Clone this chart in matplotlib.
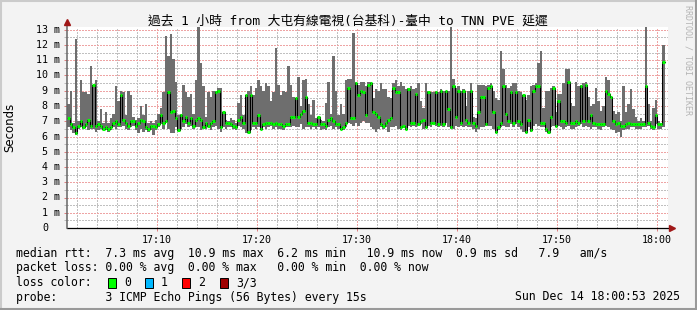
import matplotlib
matplotlib.use('Agg')
import matplotlib.pyplot as plt
import matplotlib.transforms as mtransforms
from matplotlib.patches import Rectangle
from matplotlib.lines import Line2D
import numpy as np

# ping samples (ms), one every 15 s starting 17:01:00
rtt_max = [
    8.1, 9.0, 6.9, 12.4, 7.0, 9.7, 8.9, 8.9, 8.8, 10.6,
    9.4, 9.7, 7.0, 7.8, 6.9, 7.6, 6.9, 7.2, 7.5, 9.3,
    8.3, 9.0, 8.9, 7.4, 9.0, 8.7, 7.3, 7.1, 7.2, 8.0,
    7.4, 8.1, 6.9, 7.0, 6.9, 7.1, 7.5, 7.9, 8.9, 12.6,
    11.3, 12.7, 11.1, 9.6, 7.4, 7.5, 9.4, 8.9, 8.6, 8.8,
    7.5, 9.7, 13.2, 10.8, 9.3, 7.3, 8.9, 8.6, 9.0, 9.0,
    9.2, 9.2, 7.6, 7.1, 7.0, 7.2, 7.1, 6.9, 8.2, 8.7,
    7.4, 8.7, 9.0, 9.3, 8.7, 9.2, 9.7, 9.3, 9.0, 9.5,
    9.3, 8.3, 8.9, 11.8, 9.4, 8.7, 9.0, 8.9, 10.6, 9.4,
    8.6, 8.5, 9.9, 8.0, 9.7, 9.8, 8.1, 7.4, 8.4, 7.2,
    7.3, 7.1, 7.0, 8.2, 9.6, 7.5, 11.3, 9.0, 7.4, 8.1,
    7.5, 9.7, 9.8, 9.8, 12.8, 9.6, 9.4, 9.6, 9.6, 9.3,
    9.6, 9.6, 8.5, 9.1, 9.0, 9.5, 9.1, 9.1, 8.6, 8.5,
    9.5, 9.7, 9.3, 9.6, 9.3, 9.1, 9.2, 9.3, 9.1, 9.2,
    9.5, 8.3, 7.9, 9.5, 9.0, 8.9, 8.9, 9.0, 8.9, 9.1,
    9.0, 9.0, 9.0, 13.3, 9.8, 9.2, 9.3, 9.0, 9.1, 8.0,
    9.0, 9.5, 7.3, 7.2, 9.4, 9.4, 9.4, 9.3, 9.4, 9.5,
    9.0, 8.5, 8.4, 11.6, 10.4, 9.4, 9.2, 9.3, 9.5, 9.5,
    9.0, 8.9, 8.7, 8.4, 8.7, 9.3, 9.4, 9.5, 10.8, 11.6,
    7.9, 9.0, 9.0, 9.2, 9.3, 7.6, 8.8, 8.8, 9.5, 10.4,
    10.4, 8.2, 8.0, 9.6, 9.3, 9.4, 9.5, 9.6, 8.6, 8.0,
    8.1, 9.2, 8.3, 7.7, 8.0, 9.9, 9.7, 8.6, 7.7, 7.5,
    7.6, 7.0, 9.3, 7.6, 8.1, 9.1, 7.8, 7.3, 7.0, 7.2,
    7.0, 13.3, 8.1, 7.0, 7.9, 8.4, 7.0, 6.9, 12.0,
]
rtt_min = [
    6.6, 6.4, 6.2, 6.1, 6.5, 6.6, 6.5, 6.6, 6.4, 6.5,
    6.5, 6.3, 6.4, 6.5, 6.4, 6.4, 6.3, 6.4, 6.6, 6.5,
    6.6, 6.6, 6.7, 6.5, 6.4, 6.6, 6.7, 6.4, 6.2, 6.5,
    6.3, 6.4, 6.3, 6.4, 6.1, 6.4, 6.6, 6.8, 6.5, 6.9,
    6.5, 6.2, 6.2, 6.6, 6.4, 6.5, 6.6, 6.8, 6.6, 6.7,
    6.5, 6.6, 6.6, 6.4, 6.5, 6.5, 6.6, 6.4, 6.6, 6.7,
    6.5, 6.3, 6.6, 6.5, 6.6, 6.6, 6.5, 6.4, 6.7, 6.6,
    6.5, 6.2, 6.2, 6.4, 6.6, 6.5, 6.6, 6.4, 6.6, 6.5,
    6.6, 6.7, 6.5, 6.6, 6.5, 6.5, 6.4, 6.6, 6.6, 6.6,
    6.7, 6.6, 6.6, 6.8, 6.5, 6.6, 6.6, 6.5, 6.6, 6.5,
    6.6, 6.4, 6.5, 6.4, 6.6, 6.7, 6.5, 6.6, 6.5, 6.5,
    6.4, 6.6, 6.9, 6.8, 6.7, 6.9, 6.7, 6.9, 7.0, 6.9,
    6.9, 6.6, 6.5, 6.3, 6.5, 6.6, 6.5, 6.6, 6.3, 6.6,
    6.6, 6.7, 6.5, 6.4, 6.6, 6.5, 6.7, 6.6, 6.7, 6.6,
    6.7, 6.8, 6.5, 6.6, 6.7, 6.6, 6.8, 6.7, 6.6, 6.7,
    6.6, 6.9, 6.6, 6.5, 6.5, 6.7, 6.6, 6.7, 6.6, 6.7,
    6.6, 6.6, 6.5, 6.3, 6.5, 6.6, 6.6, 6.7, 6.7, 6.7,
    6.5, 6.2, 6.4, 6.6, 6.7, 6.6, 6.6, 6.8, 6.6, 6.8,
    6.6, 6.5, 6.3, 6.2, 6.6, 6.3, 6.7, 6.8, 6.7, 6.6,
    6.6, 6.3, 6.2, 6.6, 6.7, 6.6, 6.7, 6.6, 6.5, 6.6,
    6.7, 6.5, 6.5, 6.6, 6.7, 6.8, 6.6, 6.7, 6.6, 6.5,
    6.6, 6.6, 6.5, 6.4, 6.6, 6.7, 6.6, 6.5, 6.4, 6.2,
    6.3, 6.0, 6.4, 6.5, 6.5, 6.6, 6.6, 6.5, 6.5, 6.5,
    6.6, 6.6, 6.7, 6.5, 6.4, 6.8, 6.5, 6.5, 6.6,
]
rtt_median = [
    7.2, 6.8, 6.6, 6.2, 6.7, 7.0, 6.6, 6.8, 7.1, 6.7,
    9.4, 6.7, 6.8, 6.7, 6.5, 6.6, 6.5, 6.6, 6.9, 7.0,
    6.8, 8.7, 7.1, 6.9, 6.7, 7.0, 7.0, 6.7, 6.9, 7.1,
    7.0, 6.6, 6.5, 6.7, 6.7, 6.6, 6.8, 7.4, 6.9, 7.0,
    8.9, 7.6, 7.7, 7.2, 6.4, 7.4, 7.0, 7.3, 6.9, 7.2,
    6.7, 7.1, 7.2, 7.1, 6.6, 6.9, 6.7, 6.9, 7.0, 8.9,
    9.0, 6.6, 7.6, 6.9, 6.9, 6.8, 6.7, 6.6, 7.1, 7.3,
    6.9, 8.7, 6.3, 8.7, 6.9, 6.9, 7.4, 6.5, 6.8, 6.9,
    6.9, 6.9, 6.8, 6.9, 6.8, 6.8, 6.7, 6.8, 6.8, 7.3,
    7.3, 8.5, 7.3, 7.5, 7.7, 8.6, 6.9, 6.9, 6.8, 6.8,
    7.3, 6.8, 6.8, 6.7, 7.1, 7.2, 7.0, 6.8, 6.8, 6.5,
    6.6, 6.9, 9.2, 7.2, 7.2, 9.5, 8.7, 9.0, 8.9, 7.4,
    9.4, 9.5, 7.6, 7.5, 7.3, 6.8, 6.7, 6.9, 7.1, 7.2,
    9.2, 8.9, 8.9, 6.6, 6.7, 6.5, 9.1, 6.9, 6.9, 8.8,
    6.8, 7.0, 7.1, 6.6, 8.9, 6.9, 6.9, 8.9, 6.8, 9.0,
    6.8, 9.0, 7.8, 6.6, 9.3, 7.3, 9.0, 6.9, 9.0, 7.1,
    6.9, 9.0, 6.9, 6.7, 7.6, 8.6, 8.6, 6.8, 9.2, 9.3,
    7.6, 6.3, 6.6, 6.9, 9.3, 7.5, 7.0, 8.9, 6.9, 8.9,
    7.0, 6.8, 8.7, 6.3, 7.1, 6.4, 9.0, 9.3, 9.3, 6.9,
    6.9, 6.5, 6.3, 7.3, 9.2, 6.7, 8.3, 7.0, 7.0, 6.9,
    9.6, 6.9, 6.9, 7.0, 6.9, 9.3, 7.0, 9.4, 7.0, 7.4,
    6.9, 6.8, 6.8, 6.8, 6.8, 9.0, 8.8, 8.6, 7.0, 6.8,
    6.9, 6.7, 6.7, 6.8, 6.9, 6.8, 6.8, 6.8, 6.8, 6.8,
    6.8, 9.3, 6.9, 6.7, 6.6, 7.4, 6.8, 6.8, 10.9,
]

y_ticks = list(range(1, 14))
y_labels = ['%d m' % v for v in y_ticks]
x_ticks = [10, 20, 30, 40, 50, 60]          # minutes after 17:00
x_labels = ['17:10', '17:20', '17:30', '17:40', '17:50', '18:00']
loss_colors = ['#00ff00', '#00b8ff', '#ff0000', '#a00000']
loss_names = ['0', '1', '2', '3/3']

title = '過去 1 小時 from 大屯有線電視(台基科)-臺中 to TNN PVE 延遲'
legend_rtt = 'median rtt:  7.3 ms avg  10.9 ms max  6.2 ms min   10.9 ms now  0.9 ms sd   7.9   am/s'
legend_loss = 'packet loss: 0.00 % avg  0.00 % max   0.00 % min  0.00 % now'
legend_probe = 'probe:       3 ICMP Echo Pings (56 Bytes) every 15s'
stamp = 'Sun Dec 14 18:00:53 2025'

W, H = 697, 310
MONO = ['DejaVu Sans Mono', 'Noto Sans CJK TC']

def fx(px):
    return px / W

def fy(py):
    return 1 - py / H

hi = np.array(rtt_max)
lo = np.array(rtt_min)
med = np.array(rtt_median)
step = 0.25                      # 15 s in minutes
t = 1 + step * np.arange(len(med))
edges = np.append(t, t[-1] + step)

fig = plt.figure(figsize=(W / 100, H / 100), dpi=100, facecolor='#f3f3f3')
ax = fig.add_axes([fx(67), fy(228), 601 / W, 201.5 / H])
ax.set_facecolor('white')
ax.set_xlim(1, 61.1)
ax.set_ylim(0, 201.5 / 15.25)

# smoke (min..max of the 3 pings)
ax.fill_between(edges, np.append(lo, lo[-1]), np.append(hi, hi[-1]), step='post',
                color='#6e6e6e', linewidth=0, antialiased=False, zorder=2)
# median: black steps, green per-sample segments (0 loss)
ax.step(edges, np.append(med, med[-1]), where='post', color='black', lw=0.75, zorder=3)
ax.hlines(med, t, t + step, colors='#00ff00', lw=2.2, zorder=4)

# grid
ax.set_xticks(x_ticks)
ax.set_xticks([m for m in range(2, 61, 2) if m % 10], minor=True)
ax.set_yticks(y_ticks)
ax.set_yticks(np.arange(0.5, 13, 1.0), minor=True)
ax.set_axisbelow(True)
ax.grid(which='major', color='#eea4a4', linestyle=(0, (1.4, 1.4)), lw=0.72, antialiased=False)
ax.grid(which='minor', color='#c0c0c0', linestyle=(0, (1.4, 1.4)), lw=0.72, antialiased=False)

ax.set_xticklabels(x_labels, family='DejaVu Sans Mono', size=7.2)
ax.set_yticklabels([])
ax.tick_params(axis='x', which='major', length=2.2, width=0.72, color='#e08080', pad=2.5)
ax.tick_params(axis='x', which='minor', length=0)
ax.tick_params(axis='y', which='major', length=2.2, width=0.72, color='#e08080')
ax.tick_params(axis='y', which='minor', length=2.2, width=0.72, color='#bbbbbb')
for s in ax.spines.values():
    s.set_visible(False)

# axis lines with arrows
ax.plot([0, 1.005], [0, 0], transform=ax.transAxes, color='black', lw=0.9,
        clip_on=False, zorder=5)
ax.plot([0, 0], [0, 1.015], transform=ax.transAxes, color='#666666', lw=1.1,
        clip_on=False, zorder=5)
ax.plot([1.006], [0], marker='>', ms=3.8, color='#a01818', transform=ax.transAxes,
        clip_on=False, zorder=6)
ax.plot([0], [1.02], marker='^', ms=3.8, color='#a01818', transform=ax.transAxes,
        clip_on=False, zorder=6)

# y tick labels
lab_tr = mtransforms.offset_copy(ax.get_yaxis_transform(), fig, x=-7, y=0, units='dots')
for v, lab in zip(y_ticks, y_labels):
    ax.text(0, v, lab, transform=lab_tr, ha='right', va='center',
            family='DejaVu Sans Mono', size=7.2)
zero_tr = mtransforms.offset_copy(ax.get_yaxis_transform(), fig, x=-19, y=0, units='dots')
ax.text(0, 0, '0', transform=zero_tr, ha='right', va='center',
        family='DejaVu Sans Mono', size=7.2)

fig.text(fx(348), fy(21), title, ha='center', va='center', family=MONO, size=9.2)
fig.text(fx(10), fy(127), 'Seconds', rotation=90, ha='center', va='center',
         family='DejaVu Sans', size=8.5)
fig.text(fx(688), fy(5), 'RRDTOOL / TOBI OETIKER', rotation=270, ha='center', va='top',
         family='DejaVu Sans Mono', size=6, color='#b4b4b4')

# legend
fig.text(fx(16), fy(254), legend_rtt, va='center', family=MONO, size=8.3)
fig.text(fx(16), fy(268), legend_loss, va='center', family=MONO, size=8.3)
fig.text(fx(16), fy(283), 'loss color:', va='center', family=MONO, size=8.3)
box_x = [108, 145, 182, 220]
for bx, c, name in zip(box_x, loss_colors, loss_names):
    fig.patches.append(Rectangle((fx(bx), fy(288)), 8 / W, 10 / H, transform=fig.transFigure,
                                 facecolor=c, edgecolor='black', lw=0.7))
    fig.text(fx(bx + 16), fy(283), name, va='center', family=MONO, size=8.3)
fig.text(fx(16), fy(297), legend_probe, va='center', family=MONO, size=8.3)
fig.text(fx(680), fy(297), stamp, ha='right', va='center', family=MONO, size=8.3)

# frame
fig.add_artist(Line2D([0, 1], [fy(1), fy(1)], color='#cbcbcb', lw=1.5))
fig.add_artist(Line2D([fx(1), fx(1)], [0, 1], color='#cbcbcb', lw=1.5))
fig.add_artist(Line2D([0, 1], [fy(309), fy(309)], color='#999999', lw=1.5))
fig.add_artist(Line2D([fx(696), fx(696)], [0, 1], color='#999999', lw=1.5))

fig.savefig('out.png', dpi=100, facecolor=fig.get_facecolor())
